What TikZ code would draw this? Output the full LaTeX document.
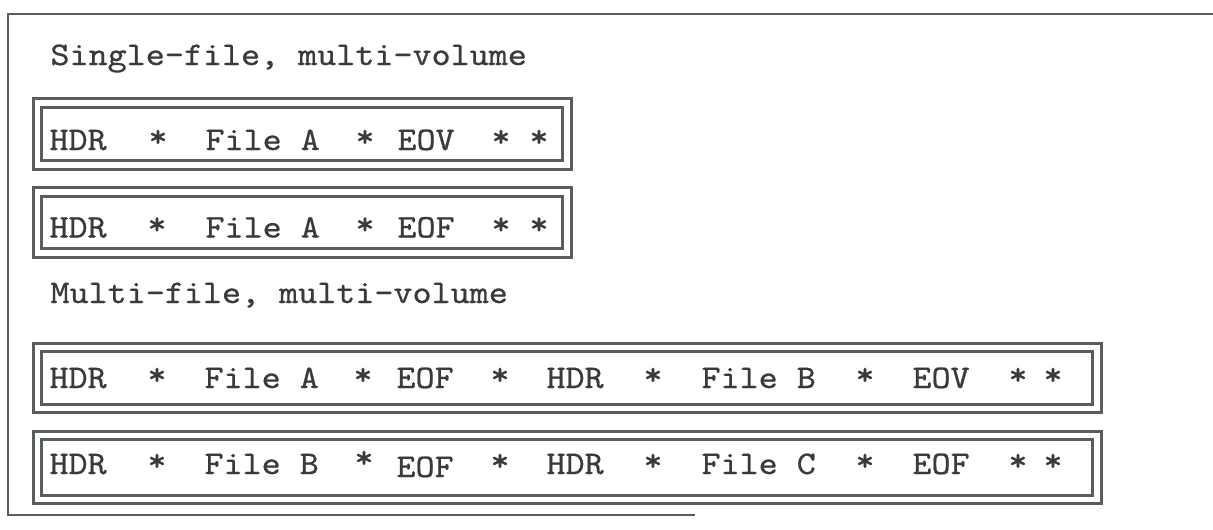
\documentclass[tikz,border=0pt]{standalone}
\usepackage{fontspec}
\newfontfamily\tw{lmmono10-regular.otf}[FakeBold=0.7, FakeStretch=1.1]
\definecolor{ln}{HTML}{5A5E5B}
\definecolor{ink}{HTML}{3A3A3A}
\tikzset{
  tape/.style={draw=ln, line width=3.2pt, double=white, double distance=5.3pt,
    inner sep=0pt, outer sep=0pt, rectangle},
  wd/.style={anchor=base west, inner sep=0pt, outer sep=0pt, text=ink,
    font=\tw\fontsize{33}{38}\selectfont},
  st/.style={wd, anchor=base, yshift=3pt},
  frameline/.style={draw=ln, line width=2.6pt},
}
\begin{document}
\begin{tikzpicture}[x=1pt, y=-1pt]
\useasboundingbox (0,0) rectangle (1213,530);
% outer frame
\draw[frameline] (1213,14) -- (8,14) -- (8,515) -- (695,515);

% headings
\node[wd] (h1) at (50.5,65) {Single-file, multi-volume};
\node[wd] (h2) at (50.5,303) {Multi-file, multi-volume};

% tape boxes
\node[tape, minimum width=529.5pt, minimum height=62pt] (b1) at (302.25,134) {};
\node[tape, minimum width=529.5pt, minimum height=61pt] (b2) at (302.25,222.5) {};
\node[tape, minimum width=1059.5pt, minimum height=61pt] (b3) at (567.25,378) {};
\node[tape, minimum width=1059.5pt, minimum height=64pt] (b4) at (567.25,467.5) {};

% row 1
\node[wd] (r1a) at (49.5,150) {HDR};
\node[st] (r1b) at (158,150) {*};
\node[wd] (r1c) at (205.5,150) {File A};
\node[st] (r1d) at (365,150) {*};
\node[wd] (r1e) at (397.5,150) {EOV};
\node[st] (r1f) at (501,150) {*};
\node[st] (r1g) at (539,150) {*};

% row 2
\node[wd] (r2a) at (49.5,237.5) {HDR};
\node[st] (r2b) at (157,237.5) {*};
\node[wd] (r2c) at (205.5,237.5) {File A};
\node[st] (r2d) at (365,237.5) {*};
\node[wd] (r2e) at (397.5,237.5) {EOF};
\node[st] (r2f) at (501,237.5) {*};
\node[st] (r2g) at (539,237.5) {*};

% row 3
\node[wd] (r3a) at (49.5,388) {HDR};
\node[st] (r3b) at (157,388) {*};
\node[wd] (r3c) at (204.5,388) {File A};
\node[st] (r3d) at (363,388) {*};
\node[wd] (r3e) at (396.5,388) {EOF};
\node[st] (r3f) at (500,388) {*};
\node[wd] (r3g) at (546.5,388) {HDR};
\node[st] (r3h) at (653,388) {*};
\node[wd] (r3i) at (701.5,388) {File B};
\node[st] (r3j) at (865,388) {*};
\node[wd] (r3k) at (912.5,388) {EOV};
\node[st] (r3l) at (1018,388) {*};
\node[st] (r3m) at (1053,388) {*};

% row 4
\node[wd] (r4a) at (49.5,474) {HDR};
\node[st] (r4b) at (157,474) {*};
\node[wd] (r4c) at (204.5,474) {File B};
\node[st] (r4d) at (364,471) {*};
\node[wd] (r4e) at (396.5,477) {EOF};
\node[st] (r4f) at (500,474) {*};
\node[wd] (r4g) at (546.5,474) {HDR};
\node[st] (r4h) at (653,474) {*};
\node[wd] (r4i) at (701.5,474) {File C};
\node[st] (r4j) at (865,474) {*};
\node[wd] (r4k) at (912.5,474) {EOF};
\node[st] (r4l) at (1018,474) {*};
\node[st] (r4m) at (1053,474) {*};
\end{tikzpicture}
\end{document}
